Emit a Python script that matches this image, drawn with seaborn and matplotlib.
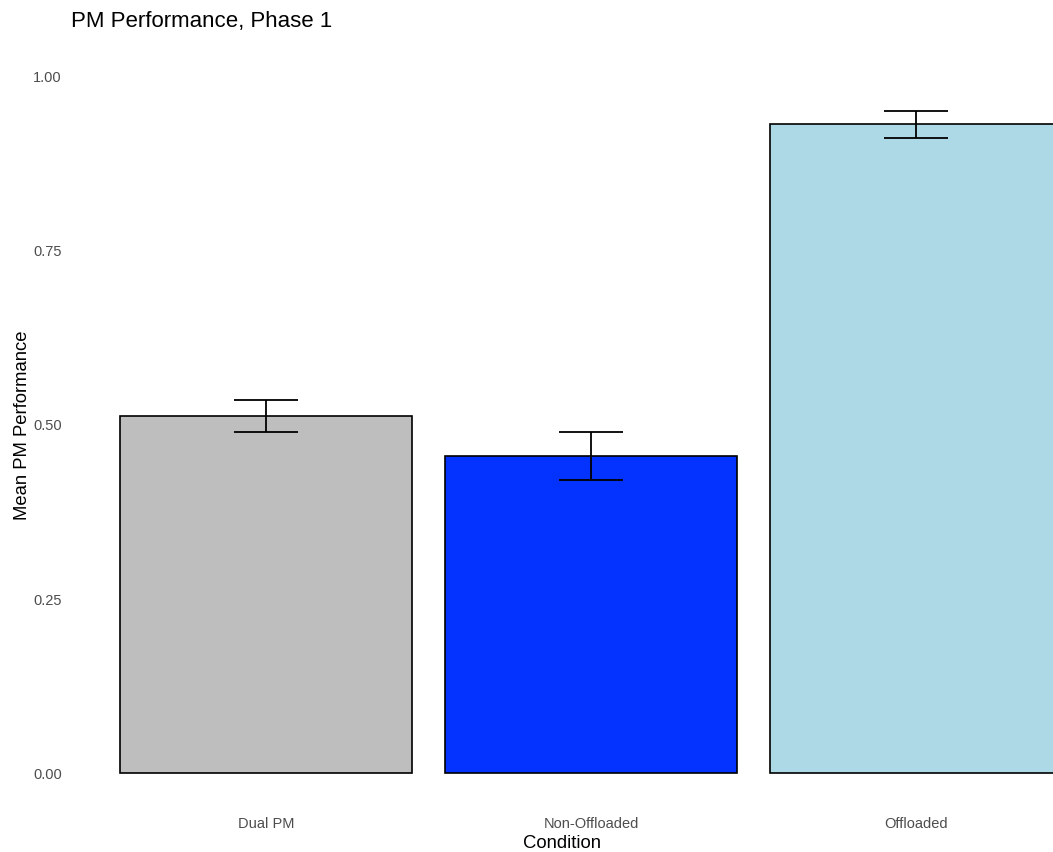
import matplotlib
matplotlib.use("Agg")
import matplotlib.pyplot as plt
import seaborn as sns
import numpy as np

# Mean PM performance per condition with standard errors
conditions = ["Dual PM", "Non-Offloaded", "Offloaded"]
mean_pm = [0.513, 0.455, 0.932]
se_pm = [0.023, 0.0345, 0.0195]
bar_colors = ["#BEBEBE", "#0433FF", "#ADD8E6"]

sns.set_theme(style="white")
plt.rcParams["font.family"] = ["Liberation Sans", "DejaVu Sans"]

fig = plt.figure(figsize=(10.53, 8.52), dpi=100)
ax = fig.add_axes([71 / 1053, 44 / 852, 1 - 71 / 1053, (808 - 42) / 852])

sns.barplot(x=conditions, y=mean_pm, hue=conditions, palette=bar_colors,
            saturation=1, width=0.9, edgecolor="black", linewidth=1.2,
            legend=False, ax=ax, errorbar=None)

ax.errorbar(x=np.arange(len(conditions)), y=mean_pm, yerr=se_pm, fmt="none",
            ecolor="black", elinewidth=1.3, capsize=23, capthick=1.3)

ax.set_xlim(-0.6, 2.4215)
ax.set_ylim(-0.05, 1.05)
ax.set_yticks([0, 0.25, 0.5, 0.75, 1.0])
ax.set_yticklabels(["0.00", "0.25", "0.50", "0.75", "1.00"])

for s in ax.spines.values():
    s.set_visible(False)
ax.grid(False)
ax.tick_params(axis="both", length=0, labelsize=10.5, labelcolor="#4D4D4D")
ax.tick_params(axis="x", pad=6.5)
ax.tick_params(axis="y", pad=6.5)

ax.set_xlabel("Condition", fontsize=13.3, color="black", labelpad=2.5)
ax.set_ylabel("Mean PM Performance", fontsize=13.3, color="black", labelpad=1.5)

fig.text(71 / 1053, 1 - 22 / 852, "PM Performance, Phase 1", fontsize=16,
         ha="left", va="center", color="black")

fig.savefig("out.png", dpi=100, facecolor="white")
